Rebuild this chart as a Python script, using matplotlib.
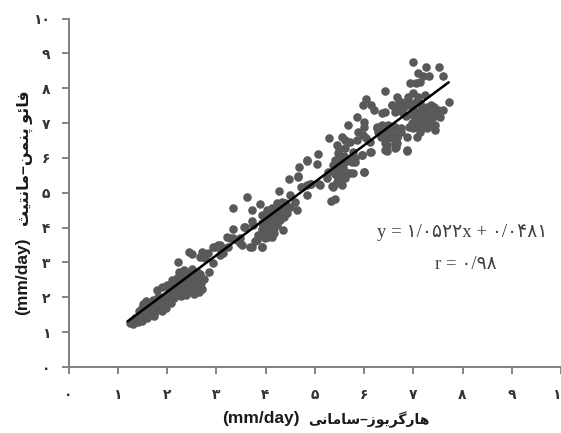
import matplotlib
matplotlib.use('Agg')
import matplotlib.pyplot as plt

# values, low / middle / high part of the cloud
low_x = [1.24,1.30,1.36,1.42,1.35,1.45,1.50,1.44,1.50,1.56,
         1.60,1.62,1.66,1.58,1.70,1.74,1.78,1.72,1.80,1.84,
         1.90,1.94,1.86,1.96,1.80,1.90,2.00,2.00,2.05,2.08,
         2.10,2.10,2.12,2.15,2.18,2.20,2.25,2.25,2.28,2.30,
         2.35,2.35,2.38,2.40,2.42,2.45,2.50,2.50,2.55,2.55,
         2.60,2.60,2.65,2.65,2.70,2.72,2.75,2.44,2.51,2.22,
         1.28,1.40,1.48,1.54,1.52,1.64,1.68,1.76,1.76,1.82,
         1.88,1.92,1.98,2.02,2.06,2.14,2.16,2.22,2.30,2.32,
         2.28,2.38,2.44,2.48,2.52,2.46,2.40,2.58,2.62,2.68,
         2.56,2.66,2.34,2.20]
low_y = [1.26,1.24,1.28,1.30,1.42,1.45,1.32,1.60,1.68,1.55,
         1.40,1.72,1.85,1.88,1.62,1.46,1.70,1.92,1.88,1.66,
         1.60,1.80,2.02,2.05,2.20,2.30,2.35,1.85,2.18,1.85,
         2.05,2.50,2.45,1.98,2.30,2.12,2.45,2.72,2.05,2.60,
         2.42,2.78,2.08,2.55,2.30,2.15,2.80,2.45,2.10,2.55,
         2.72,2.30,2.55,2.15,2.40,2.25,2.52,3.30,3.24,3.01,
         1.32,1.38,1.55,1.42,1.80,1.55,1.72,1.58,1.82,2.00,
         1.78,1.95,1.70,1.98,2.30,2.22,2.38,2.22,2.25,2.45,
         2.35,2.20,2.42,2.28,2.62,2.68,2.68,2.42,2.48,2.28,
         2.22,2.68,2.62,2.55]

mid_x = [2.73,2.83,2.93,3.03,3.13,3.07,2.93,2.85,2.67,2.77,
         3.34,3.62,3.72,3.88,4.27,4.47,4.66,4.68,4.84,4.73,
         4.84,3.92,3.72,3.78,3.48,3.56,3.72,3.74,3.33,3.21,
         3.34,3.07,2.97,3.13,2.71,3.07,3.24,3.48,3.42,3.58,
         3.28,3.52,3.82,3.92,3.68,3.92,4.03,4.13,4.23,4.33,
         4.49,4.59,4.63,4.43,4.35,4.29,4.35,4.23,4.13,4.05,
         3.92,3.98,3.85,4.13,4.03,4.09,3.98,4.19,3.92,4.45,
         4.25,4.05,4.09,4.74,4.84,4.90,5.08,5.34,5.41,5.99,
         4.92,5.10,5.37,5.06,5.04,4.65,4.84,
         4.00,4.15,4.28,4.40,4.18,4.02,3.92,4.10,4.38,4.50,
         4.22,4.18]
mid_y = [3.27,3.27,3.44,3.50,3.41,3.21,2.98,2.73,3.16,3.13,
         4.56,4.88,4.50,4.68,5.05,5.39,5.45,5.74,5.91,5.16,
         5.22,3.44,3.44,3.62,3.56,4.02,4.19,4.07,3.96,3.73,
         3.70,3.50,3.44,3.27,3.30,3.41,3.44,3.70,3.64,4.02,
         3.70,3.50,3.64,3.44,3.44,4.36,4.50,4.56,4.71,4.73,
         4.94,4.73,4.50,4.42,4.59,4.22,3.93,4.07,3.99,3.73,
         3.79,3.70,3.79,3.73,3.99,4.28,4.22,4.36,4.13,4.59,
         4.50,4.42,4.13,5.16,4.94,5.25,5.25,4.76,4.82,5.60,
         5.25,5.22,5.17,6.11,5.82,5.48,5.94,
         4.05,4.25,4.45,4.70,3.85,3.85,3.95,4.45,4.30,4.60,
         4.60,4.00]

high_x = [5.28,5.67,5.85,6.01,5.99,5.55,5.45,5.47,5.61,5.71,
          5.85,5.87,5.97,6.05,6.12,5.61,5.77,5.41,5.37,5.26,
          5.24,5.41,5.51,5.61,5.71,5.81,5.95,6.12,5.47,5.57,
          5.67,5.77,5.47,5.61,5.36,5.55,5.45,5.51,5.45,5.57,
          5.71,5.55,5.45,5.75,5.95,5.81,5.97,6.05,6.15,6.20,
          6.36,6.42,6.56,6.62,6.26,6.36,6.28,6.42,6.52,6.46,
          6.42,6.46,6.62,6.58,6.68,6.76,6.87,6.66,6.99,7.25,
          7.52,7.60,7.09,7.19,7.31,6.93,7.05,7.13,6.42,7.72,
          6.87,6.64,6.46,6.14,6.01,7.45,7.07,6.87,6.66,6.76,
          6.89,6.99,7.23,7.09,6.87,6.56,6.66,6.78,6.97,7.13,
          6.72,7.37,7.50,7.60,7.44,7.54,7.44,7.19,7.09,7.27,
          7.37,7.03,7.17,7.29,7.07,7.19,6.99,7.27,7.13,6.97,
          7.40,7.33,7.17,6.26,6.36,6.48,6.62,6.76,6.58,6.68,
          6.42,6.62,6.32,6.46,
          6.85,6.95,7.00,7.05,7.12,7.22,7.32,7.15,7.28,7.42,
          7.35,6.92,6.70,6.82,6.90,7.05,5.50,5.42,5.52,5.60,
          5.48,5.60,5.50,6.50,6.40,6.55,6.35]
high_y = [6.57,6.94,7.17,7.03,6.89,6.60,6.37,6.14,6.51,6.46,
          6.51,6.74,6.66,6.57,6.46,6.28,6.17,5.94,5.80,5.60,
          5.42,5.71,5.80,5.88,5.94,5.88,6.08,6.17,5.57,5.65,
          5.57,5.57,5.42,5.42,5.19,5.22,5.28,6.03,5.85,5.71,
          5.57,5.45,5.31,5.88,6.08,6.00,7.52,7.69,7.52,7.37,
          7.29,7.32,7.52,7.32,6.89,6.89,6.74,6.86,6.80,6.57,
          6.23,6.37,6.28,6.57,6.60,6.74,6.23,6.43,8.75,8.61,
          8.61,8.35,8.44,8.35,8.35,8.15,8.15,8.18,7.92,7.60,
          6.20,6.31,6.20,6.17,5.60,6.80,6.60,6.60,7.75,7.60,
          7.75,7.86,7.80,7.75,7.52,7.52,7.37,7.32,7.52,7.58,
          7.46,7.52,7.37,7.37,7.32,7.17,6.94,7.32,7.29,7.17,
          7.14,7.14,7.09,7.00,6.94,6.89,6.86,6.86,6.74,7.00,
          7.17,7.32,7.24,6.86,6.94,6.94,6.89,6.86,6.71,6.60,
          6.43,6.43,6.71,6.71,
          7.20,7.25,7.40,7.05,6.95,7.05,7.15,7.40,7.45,7.45,
          6.95,6.90,7.55,7.45,7.65,7.60,5.55,5.55,5.70,5.55,
          5.95,6.05,6.25,6.85,6.80,6.60,6.60]

line_x = [1.2, 7.72]
line_y = [1.31, 8.17]

ticks = list(range(0, 11))
tick_labels = ['۰','۱','۲','۳','۴','۵','۶','۷','۸','۹','۱۰']

# matplotlib does no arabic shaping, so presentation forms in visual order
fao = '\ufed3\ufe8e\ufe8b\ufeee'
penman = '\ufb58\ufee8\ufee4\ufee6'
monteith = '\ufee3\ufe8e\ufee7\ufe98\ufbff\ufe9a'
hargreaves = '\ufeeb\ufe8e\ufead\ufb94\ufeae\ufbfe\ufeee\ufeaf'
samani = '\ufeb3\ufe8e\ufee3\ufe8e\ufee7\ufbfd'
xlab = samani[::-1] + '–' + hargreaves[::-1]
ylab = monteith[::-1] + '–' + penman[::-1] + ' ' + fao[::-1]
unit = '(mm/day)'

fonts = ['Liberation Sans', 'DejaVu Sans']
serif = ['Liberation Serif', 'DejaVu Sans']

fig = plt.figure(figsize=(5.61, 4.33), dpi=100)
ax = fig.add_axes([68.5/561, (433-367)/433, (561-68.5)/561, (367-18.5)/433])

ax.scatter(low_x, low_y, s=38, color='#595959', linewidths=0, clip_on=False)
ax.scatter(mid_x, mid_y, s=38, color='#595959', linewidths=0, clip_on=False)
ax.scatter(high_x, high_y, s=38, color='#595959', linewidths=0, clip_on=False)
ax.plot(line_x, line_y, color='black', lw=1.8, solid_capstyle='round')

ax.axis([0, 10, 0, 10])
for s in ['top', 'right']:
    ax.spines[s].set_visible(False)
for s in ['left', 'bottom']:
    ax.spines[s].set_color('#808080')
    ax.spines[s].set_linewidth(1.4)
ax.set_xticks(ticks, tick_labels, family=fonts, fontweight='bold', fontsize=10, color='#333333')
ax.set_yticks(ticks, tick_labels, family=fonts, fontweight='bold', fontsize=10, color='#333333')
ax.tick_params(axis='x', length=5, width=1.2, color='#707070', pad=10)
ax.tick_params(axis='y', length=5, width=1.2, color='#707070', pad=8)

ax.text(7.99, 3.85, 'y = ۱/۰۵۲۲x + ۰/۰۴۸۱', family=serif, fontsize=13.5, color='#404040', ha='center', va='center')
ax.text(8.07, 2.93, 'r = ۰/۹۸', family=serif, fontsize=13.5, color='#404040', ha='center', va='center')

fig.text(261/561, 1-419/433, unit, family=fonts, fontweight='bold', fontsize=12.5, color='#1a1a1a', ha='center', va='center')
fig.text(369/561, 1-420/433, xlab, family=fonts, fontweight='bold', fontsize=10, color='#1a1a1a', ha='center', va='center')
fig.text(23/561, 1-276/433, unit, family=fonts, fontweight='bold', fontsize=12.5, color='#1a1a1a', ha='center', va='center', rotation=90)
fig.text(25/561, 1-158/433, ylab, family=fonts, fontweight='bold', fontsize=11.5, color='#1a1a1a', ha='center', va='center', rotation=90)

plt.savefig('out.png', dpi=100)
